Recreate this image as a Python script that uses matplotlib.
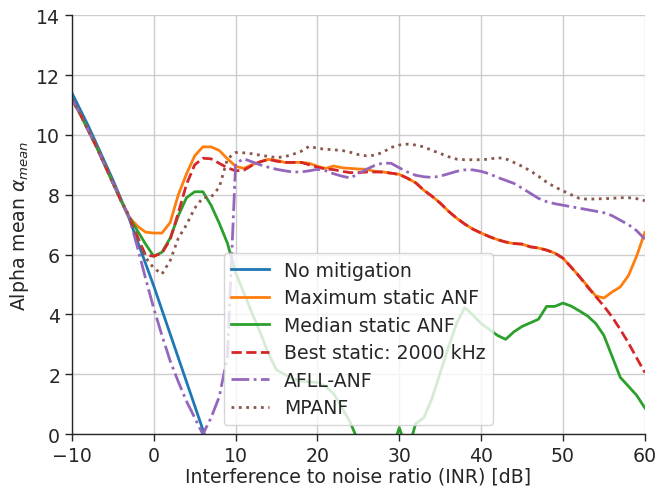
import numpy as np
import matplotlib
matplotlib.use("Agg")
import matplotlib.pyplot as plt

plt.rcParams['font.family'] = ['DejaVu Sans']
plt.rcParams['text.color'] = '#262626'
plt.rcParams['axes.labelcolor'] = '#262626'
plt.rcParams['xtick.color'] = '#262626'
plt.rcParams['ytick.color'] = '#262626'

FS = 13.6

# INR axis in dB
inr = np.arange(-10, 61)

no_mitigation = [11.4, 10.85, 10.3, 9.7, 9.1, 8.5, 7.85, 7.2, 6.45, 5.7,
                 4.95, 4.15, 3.35, 2.55, 1.75, 0.95, 0.15, -0.65]

max_static = [11.2, 10.7, 10.15, 9.6, 9.0, 8.4, 7.8, 7.25, 6.95, 6.75,
              6.72, 6.72, 7.07, 8.0, 8.7, 9.3, 9.6, 9.6, 9.48, 9.2,
              8.95, 8.88, 9.0, 9.1, 9.18, 9.15, 9.08, 9.08, 9.08, 9.05,
              8.95, 8.88, 8.96, 8.9, 8.88, 8.86, 8.85, 8.78, 8.76, 8.72,
              8.68, 8.55, 8.4, 8.15, 7.95, 7.72, 7.45, 7.22, 7.02, 6.85,
              6.72, 6.6, 6.5, 6.42, 6.37, 6.35, 6.26, 6.22, 6.15, 6.05,
              5.88, 5.58, 5.27, 4.95, 4.62, 4.55, 4.75, 4.92, 5.3, 5.95,
              6.74]

median_static = [11.2, 10.7, 10.15, 9.6, 9.0, 8.4, 7.8, 7.25, 6.8, 6.35,
                 5.94, 6.08, 6.55, 7.3, 7.9, 8.1, 8.1, 7.65, 7.05, 6.38,
                 5.4, 4.72, 4.05, 3.4, 2.7, 2.15, 2.0, 1.85, 1.78, 1.75,
                 1.73, 1.6, 1.35, 0.88, 0.4, -0.25, -0.6, -0.6, -0.6, -0.6,
                 0.22, -0.6, 0.35, 0.55, 1.2, 2.05, 2.9, 3.7, 4.23, 3.98,
                 3.7, 3.5, 3.3, 3.17, 3.42, 3.6, 3.72, 3.84, 4.27, 4.27,
                 4.38, 4.28, 4.12, 3.95, 3.7, 3.3, 2.6, 1.9, 1.6, 1.3,
                 0.88]

best_static = [11.2, 10.7, 10.15, 9.6, 9.0, 8.4, 7.8, 7.25, 6.6, 5.98,
               5.95, 6.05, 6.5, 7.4, 8.35, 9.0, 9.22, 9.2, 9.05, 8.9,
               8.8, 8.82, 8.98, 9.1, 9.18, 9.12, 9.08, 9.08, 9.08, 9.0,
               8.92, 8.86, 8.84, 8.78, 8.74, 8.74, 8.76, 8.76, 8.76, 8.72,
               8.68, 8.55, 8.4, 8.15, 7.95, 7.72, 7.45, 7.22, 7.02, 6.85,
               6.72, 6.6, 6.5, 6.42, 6.37, 6.35, 6.26, 6.22, 6.15, 6.05,
               5.88, 5.58, 5.27, 4.92, 4.6, 4.28, 3.92, 3.5, 3.05, 2.55,
               2.06]

afll_anf = [11.2, 10.7, 10.15, 9.6, 9.0, 8.4, 7.8, 7.25, 6.25, 5.2,
            4.2, 3.3, 2.45, 1.75, 1.1, 0.55, 0.0, 0.55, 1.25, 2.6,
            9.05, 9.2, 9.1, 9.0, 8.92, 8.85, 8.8, 8.76, 8.76, 8.8,
            8.85, 8.8, 8.7, 8.62, 8.56, 8.7, 8.85, 8.98, 9.06, 9.05,
            8.9, 8.76, 8.65, 8.6, 8.58, 8.62, 8.7, 8.78, 8.83, 8.83,
            8.78, 8.7, 8.58, 8.48, 8.38, 8.22, 8.05, 7.88, 7.77, 7.7,
            7.65, 7.6, 7.55, 7.5, 7.45, 7.4, 7.3, 7.15, 7.0, 6.8,
            6.52]

mpanf = [11.2, 10.7, 10.15, 9.6, 9.0, 8.4, 7.8, 7.3, 6.55, 5.9,
         5.55, 5.35, 5.8, 6.55, 7.0, 7.55, 7.9, 7.92, 8.25, 9.2,
         9.41, 9.4, 9.37, 9.32, 9.28, 9.24, 9.27, 9.35, 9.45, 9.62,
         9.55, 9.52, 9.5, 9.48, 9.42, 9.34, 9.3, 9.32, 9.42, 9.58,
         9.66, 9.69, 9.66, 9.6, 9.48, 9.38, 9.27, 9.19, 9.17, 9.17,
         9.17, 9.19, 9.24, 9.2, 9.08, 8.95, 8.8, 8.62, 8.42, 8.26,
         8.13, 8.0, 7.88, 7.85, 7.86, 7.87, 7.88, 7.9, 7.9, 7.87,
         7.8]

fig = plt.figure(figsize=(6.6, 4.89), dpi=100)
ax = fig.add_axes([0.109, 0.110, 0.868, 0.857])

lw = 2.0
ax.plot(inr[:len(no_mitigation)], no_mitigation, color='#1f77b4', lw=lw, label='No mitigation')
ax.plot(inr, max_static, color='#ff7f0e', lw=lw, label='Maximum static ANF')
ax.plot(inr, median_static, color='#2ca02c', lw=lw, label='Median static ANF')
ax.plot(inr, best_static, color='#d62728', lw=lw, ls='--', label='Best static: 2000 kHz')
ax.plot(inr, afll_anf, color='#9467bd', lw=lw, ls='-.', label='AFLL-ANF')
ax.plot(inr, mpanf, color='#8c564b', lw=lw, ls=':', label='MPANF')

ax.set_xlim(-10, 60)
ax.set_ylim(0, 14)
ax.set_xticks(np.arange(-10, 61, 10))
ax.set_yticks(np.arange(0, 15, 2))
ax.tick_params(labelsize=FS, length=5, width=1)
ax.grid(True, color='#cccccc', lw=1)
ax.set_axisbelow(True)
for side in ('top', 'right'):
    ax.spines[side].set_visible(False)
for side in ('left', 'bottom'):
    ax.spines[side].set_color('#262626')
    ax.spines[side].set_linewidth(1.0)

ax.set_xlabel('Interference to noise ratio (INR) [dB]', fontsize=FS, labelpad=1)
ax.set_ylabel(r'Alpha mean $\alpha_{mean}$', fontsize=FS)
ax.legend(loc='lower center', fontsize=FS, framealpha=0.8, labelspacing=0.45)

fig.savefig('out.png', dpi=100)
